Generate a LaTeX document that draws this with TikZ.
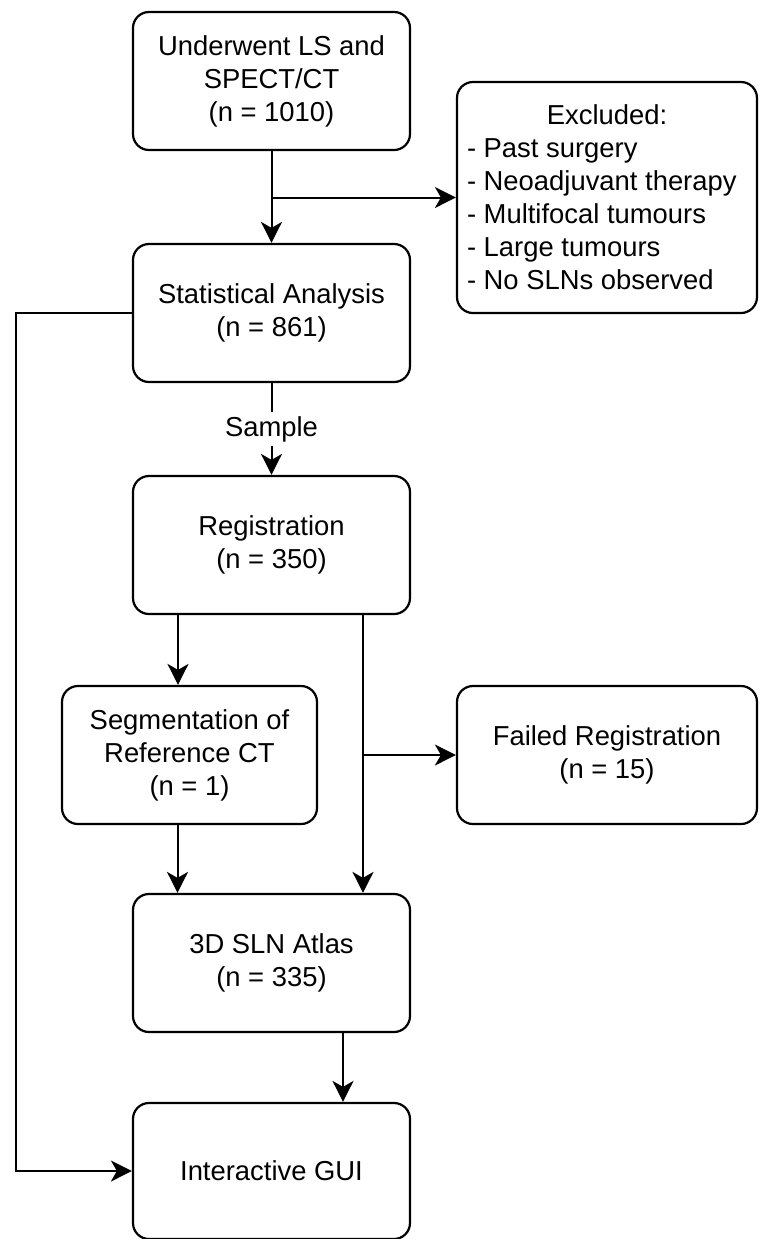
\documentclass[tikz,border=0pt]{standalone}
\usepackage{fontspec}
\setmainfont{Liberation Sans}
\usetikzlibrary{arrows.meta}
\tikzstyle{box}=[draw=black,line width=1.1pt,rounded corners=8pt,align=center,
  minimum width=138.5pt,minimum height=69pt,font=\fontsize{13.7}{16.5}\selectfont]
\tikzstyle{line}=[draw=black,line width=1pt,-{Stealth[length=10.5pt,width=10.5pt,inset=3pt]}]

\begin{document}
\begin{tikzpicture}[x=0.5pt,y=-0.5pt]
          \useasboundingbox (0,0) rectangle (760,1239);
          \node[box] (under) at (271.5,81) {Underwent LS and\\SPECT/CT\\(n = 1010)};
          \node[box,minimum width=150pt,minimum height=115.5pt,align=left,inner xsep=5pt] (excl) at (607,197.5)
            {\makebox[140pt]{Excluded:}\\- Past surgery\\- Neoadjuvant therapy\\- Multifocal tumours\\- Large tumours\\- No SLNs observed};
          \node[box] (stat) at (271.5,313) {Statistical Analysis\\(n = 861)};
          \node[box] (reg) at (271.5,545) {Registration\\(n = 350)};
          \node[box,minimum width=127.5pt] (seg) at (189.5,755) {Segmentation of\\Reference CT\\(n = 1)};
          \node[box,minimum width=150pt] (fail) at (607,755) {Failed Registration\\(n = 15)};
          \node[box] (atlas) at (271.5,963) {3D SLN Atlas\\(n = 335)};
          \node[box,minimum height=68pt] (gui) at (271.5,1171) {Interactive GUI};

          \coordinate (split1) at (under.south |- excl.west);
          \coordinate (leftrail) at (16,313);
          \draw[line] (under) -- (stat);
          \draw[line] (split1) -- (excl.west);
          \draw[line] (stat) -- node[fill=white,inner sep=2pt,font=\fontsize{13.7}{16.5}\selectfont] (sample) {Sample} (reg);
          \draw[line] (stat.west) -- (leftrail) |- (gui.west);
          \draw[line] ([xshift=-46.75pt]reg.south) -- ([xshift=-46.75pt]reg.south |- seg.north);
          \draw[line] ([xshift=45.75pt]reg.south) -- ([xshift=45.75pt]atlas.north);
          \draw[line] ([xshift=45.75pt]reg.south |- fail.west) -- (fail.west);
          \draw[line] ([xshift=-47pt]reg.south |- seg.south) -- ([xshift=-47pt]atlas.north);
          \draw[line] ([xshift=35.75pt]atlas.south) -- ([xshift=35.75pt]gui.north);
        \end{tikzpicture}
\end{document}
